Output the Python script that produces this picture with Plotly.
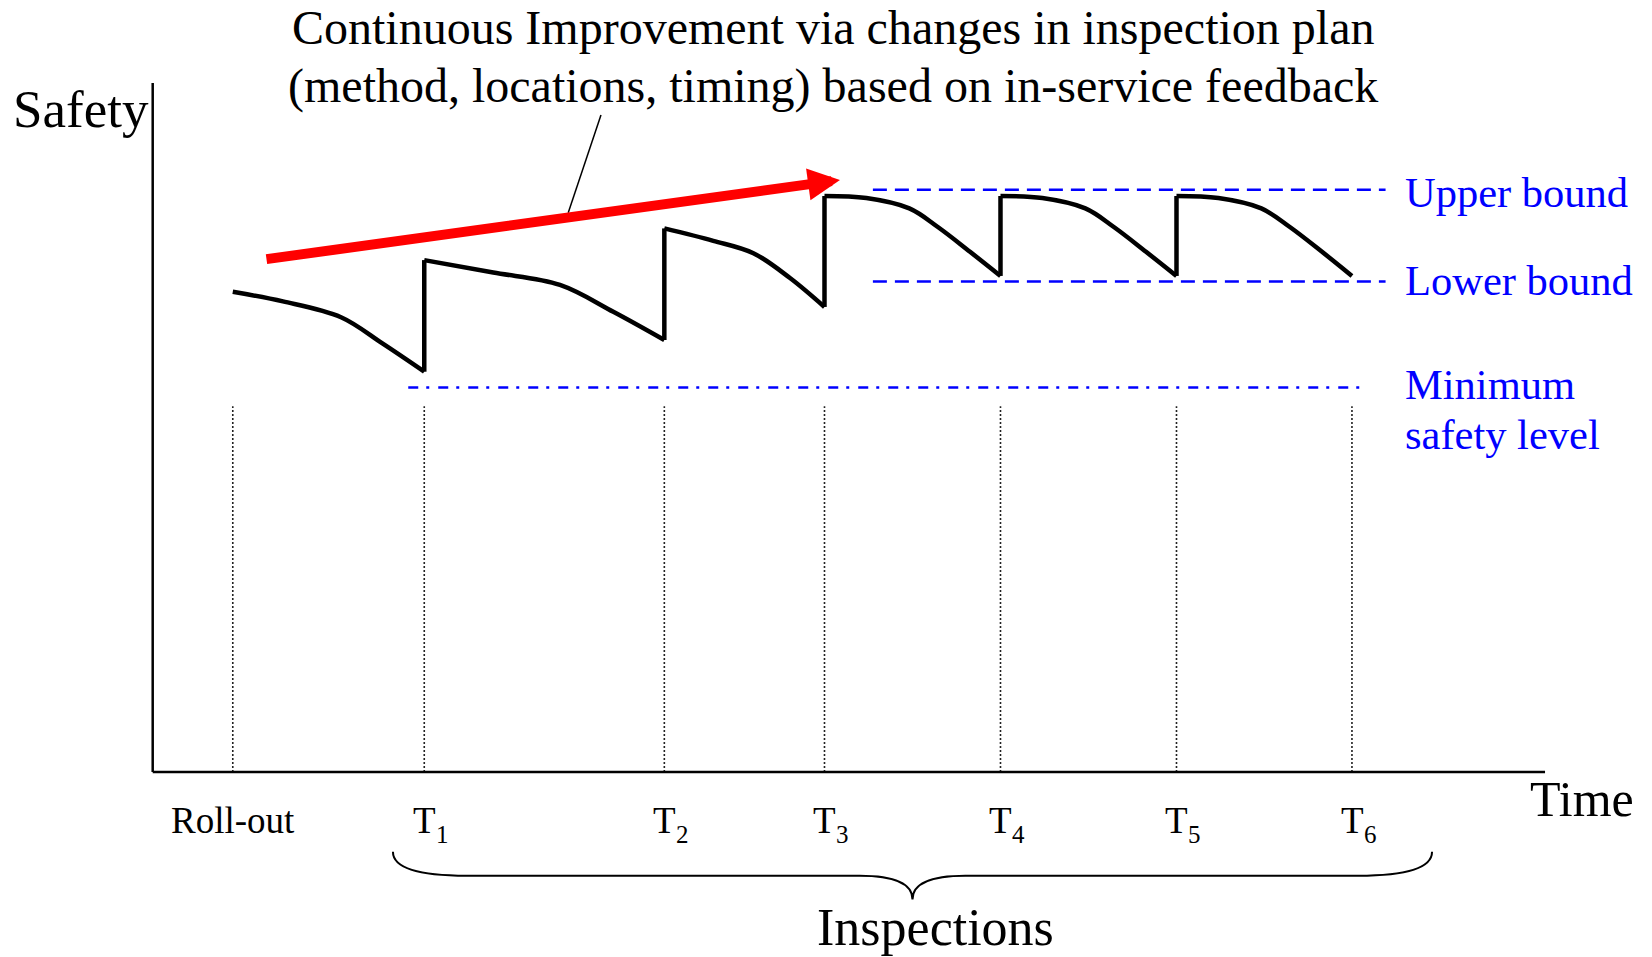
import plotly.graph_objects as go

# ---------------- data (time units / safety units) ----------------
rollout_time = 0.455
inspection_times = [1.543, 2.907, 3.817, 4.817, 5.817, 6.814]
rollout_label = "Roll-out"
inspection_letter = "T"
inspection_numbers = ["1", "2", "3", "4", "5", "6"]

# safety decay between inspections
seg1_t = [0.455, 0.740, 1.070, 1.305, 1.543]
seg1_s = [6.97, 6.83, 6.60, 6.22, 5.81]
seg2_t = [1.543, 1.935, 2.314, 2.617, 2.907]
seg2_s = [7.43, 7.25, 7.07, 6.68, 6.27]
seg3_t = [2.907, 3.185, 3.413, 3.621, 3.817]
seg3_s = [7.89, 7.71, 7.53, 7.17, 6.75]
seg4_t = [3.817, 4.055, 4.299, 4.461, 4.644, 4.817]
seg4_s = [8.36, 8.33, 8.18, 7.91, 7.55, 7.20]
seg5_t = [4.817, 5.055, 5.299, 5.461, 5.644, 5.817]
seg5_s = [8.36, 8.33, 8.18, 7.91, 7.55, 7.20]
seg6_t = [5.817, 6.055, 6.299, 6.461, 6.644, 6.814]
seg6_s = [8.36, 8.33, 8.18, 7.91, 7.55, 7.20]

upper_bound = 8.45
lower_bound = 7.12
minimum_level = 5.58
bound_span = [4.092, 7.005]
minimum_span = [1.452, 6.87]
axis_x_max = 7.911
axis_y_max = 10.0
guide_top = 5.31

improvement_from = (0.638, 7.441)
improvement_to = (3.905, 8.592)

title_lines = ["Continuous Improvement via changes in inspection plan",
               "(method, locations, timing) based on in-service feedback"]

# ---------------- layout geometry ----------------
W, H = 1652, 957
X_RANGE = [-0.8676, 8.5188]
Y_RANGE = [-2.685, 11.205]
FONT = "Liberation Serif, Times New Roman, serif"
BLUE = "#0000FF"

segs_t = [seg1_t, seg2_t, seg3_t, seg4_t, seg5_t, seg6_t]
segs_s = [seg1_s, seg2_s, seg3_s, seg4_s, seg5_s, seg6_s]

fig = go.Figure()

# dotted guide lines
for t in [rollout_time] + inspection_times:
    fig.add_trace(go.Scatter(x=[t, t], y=[0, guide_top], mode="lines",
                             line=dict(color="#222222", width=1.6, dash="2px,2px"),
                             hoverinfo="skip"))

# bounds
fig.add_trace(go.Scatter(x=bound_span, y=[upper_bound, upper_bound], mode="lines",
                         line=dict(color=BLUE, width=2.4, dash="14px,8px"), hoverinfo="skip"))
fig.add_trace(go.Scatter(x=bound_span, y=[lower_bound, lower_bound], mode="lines",
                         line=dict(color=BLUE, width=2.4, dash="14px,8px"), hoverinfo="skip"))
fig.add_trace(go.Scatter(x=minimum_span, y=[minimum_level, minimum_level], mode="lines",
                         line=dict(color=BLUE, width=2.4, dash="10px,8px,3px,9px"), hoverinfo="skip"))

# safety curve: decays (spline) and jumps at inspections
for st, ss in zip(segs_t, segs_s):
    fig.add_trace(go.Scatter(x=st, y=ss, mode="lines",
                             line=dict(color="black", width=4.5, shape="spline", smoothing=1.0),
                             hoverinfo="skip"))
for i in range(5):
    fig.add_trace(go.Scatter(x=[segs_t[i][-1], segs_t[i + 1][0]],
                             y=[segs_s[i][-1], segs_s[i + 1][0]], mode="lines",
                             line=dict(color="black", width=4.5), hoverinfo="skip"))

shapes = []
# axes
shapes.append(dict(type="line", xref="x", yref="y", x0=0, x1=axis_x_max, y0=0, y1=0,
                   line=dict(color="black", width=2.5)))
shapes.append(dict(type="line", xref="x", yref="y", x0=0, x1=0, y0=0, y1=axis_y_max,
                   line=dict(color="black", width=2.5)))
# leader line from the text to the arrow
shapes.append(dict(type="line", xref="x", yref="y", x0=2.547, y0=9.536, x1=2.361, y1=8.118,
                   line=dict(color="black", width=1.5)))
# brace under the inspections
bx0 = inspection_times[0] - 0.178
bx1 = inspection_times[-1] + 0.455
bxc = (bx0 + bx1) / 2
ytop, yflat, ycusp = -1.157, -1.505, -1.85
hook, cus = 0.42, 0.30
path = (f"M {bx0},{ytop} Q {bx0},{yflat} {bx0 + hook},{yflat} "
        f"L {bxc - cus},{yflat} Q {bxc},{yflat} {bxc},{ycusp} "
        f"Q {bxc},{yflat} {bxc + cus},{yflat} L {bx1 - hook},{yflat} "
        f"Q {bx1},{yflat} {bx1},{ytop}")
shapes.append(dict(type="path", xref="x", yref="y", path=path,
                   line=dict(color="black", width=2)))

ann = []
# red improvement arrow
ann.append(dict(x=improvement_to[0], y=improvement_to[1], ax=improvement_from[0],
                ay=improvement_from[1], xref="x", yref="y", axref="x", ayref="y",
                text="", showarrow=True, arrowhead=2, arrowsize=0.64, arrowwidth=10,
                arrowcolor="#FF0000", standoff=0, startstandoff=0))


def label(x, y, text, size, color="black", xanchor="center", xshift=0, yshift=0):
    ann.append(dict(x=x, y=y, xref="x", yref="y", text=text, showarrow=False,
                    font=dict(family=FONT, size=size, color=color), xanchor=xanchor,
                    yanchor="middle", xshift=xshift, yshift=yshift, borderpad=0))


# title text
label(3.865, 10.809, title_lines[0], 48)
label(3.865, 9.961, title_lines[1], 48)
# axis titles
label(-0.800, 9.63, "Safety", 53, xanchor="left")
label(7.820, -0.385, "Time", 50, xanchor="left")
# bound labels
label(7.108, 8.406, "Upper bound", 42.5, BLUE, xanchor="left")
label(7.108, 7.13, "Lower bound", 42.5, BLUE, xanchor="left")
label(7.108, 5.627, "Minimum", 42.5, BLUE, xanchor="left")
label(7.108, 4.901, "safety level", 42.5, BLUE, xanchor="left")
# tick labels
label(rollout_time, -0.708, rollout_label, 37)
for t, num in zip(inspection_times, inspection_numbers):
    label(t, -0.708, inspection_letter, 37, xanchor="left", xshift=-12)
    label(t, -0.905, num, 25, xanchor="left", xshift=11)
label(4.448, -2.264, "Inspections", 52)

fig.update_layout(
    width=W, height=H, autosize=False,
    margin=dict(l=0, r=0, t=0, b=0, pad=0),
    paper_bgcolor="white", plot_bgcolor="white",
    showlegend=False,
    xaxis=dict(range=X_RANGE, visible=False, fixedrange=True),
    yaxis=dict(range=Y_RANGE, visible=False, fixedrange=True),
    shapes=shapes, annotations=ann,
)

fig.write_html("out.html", config={"displayModeBar": False},
               post_script="document.body.style.margin='0px';document.body.style.overflow='hidden';")
